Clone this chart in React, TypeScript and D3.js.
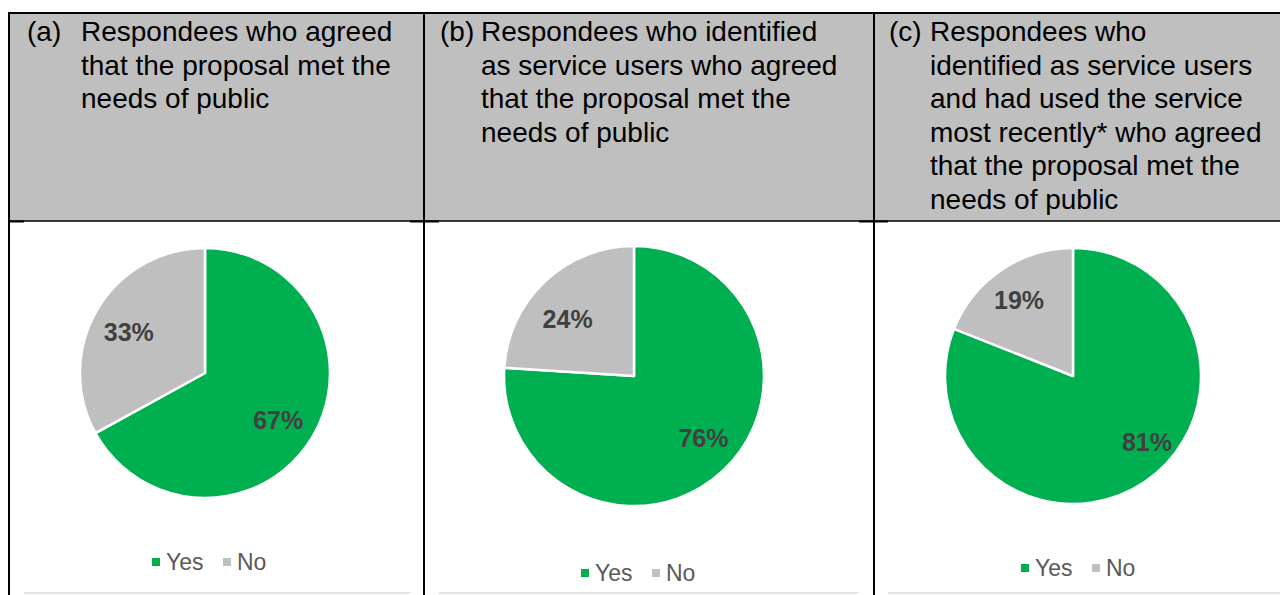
import React from "react";
import * as d3 from "d3";

const panelKeys = ["(a)", "(b)", "(c)"];
const panelTitles: string[][] = [
  ["Respondees who agreed", "that the proposal met the", "needs of public"],
  ["Respondees who identified", "as service users who agreed", "that the proposal met the", "needs of public"],
  ["Respondees who", "identified as service users", "and had used the service", "most recently* who agreed", "that the proposal met the", "needs of public"],
];
const categories = ["Yes", "No"];
const yesValues = [67, 76, 81];
const noValues = [33, 24, 19];

const colors = ["#00B050", "#BFBFBF"];
const FONT = "'Liberation Sans', Arial, Helvetica, sans-serif";

// layout
const colBorders = [9, 424, 874];
const keyX = [27, 440, 889];
const textX = [81, 481, 930];
const pieCenters = [
  { cx: 205, cy: 373, r: 125, lf: 0.69 },
  { cx: 634, cy: 376, r: 130, lf: 0.69 },
  { cx: 1073, cy: 376, r: 128, lf: 0.75 },
];
// fine placement nudges for data labels (px), per panel, per slice
const labelNudge = [
  [[-1, 3], [-2, 3]],
  [[8, -3], [-5, 8]],
  [[20, -13], [0, 3]],
];
const legendPos = [
  { x: 152, y: 562 },
  { x: 581, y: 573 },
  { x: 1021, y: 568 },
];
const chartBoxes = [
  { x0: 24, x1: 410 },
  { x0: 439, x1: 858 },
  { x0: 888, x1: 1290 },
];
const borderStubs = [
  [9, 24],
  [410, 439],
  [859, 888],
];

export default function App() {
  const pie = d3
    .pie<number>()
    .sort(null)
    .value((d) => d);

  return (
    <svg
      width={1280}
      height={595}
      style={{ position: "fixed", left: 0, top: 0, background: "#fff" }}
      fontFamily={FONT}
    >
      {/* header background */}
      <rect x={9} y={13} width={1290} height={208} fill="#BFBFBF" />
      {/* chart boxes */}
      {chartBoxes.map((b, i) => (
        <g key={"box" + i}>
          <rect x={b.x0} y={221.5} width={b.x1 - b.x0} height={372} fill="#fff" />
          <line x1={b.x0} x2={b.x1} y1={593} y2={593} stroke="#E3E3E3" strokeWidth={2} />
        </g>
      ))}
      {/* table borders */}
      <line x1={8} x2={1290} y1={13} y2={13} stroke="#000" strokeWidth={2} />
      <line x1={8} x2={1290} y1={221} y2={221} stroke="#000" strokeWidth={1.4} />
      {borderStubs.map((s, i) => (
        <line key={"st" + i} x1={s[0]} x2={s[1]} y1={221.5} y2={221.5} stroke="#000" strokeWidth={2} />
      ))}
      {colBorders.map((x, i) => (
        <line key={"cb" + i} x1={x} x2={x} y1={12} y2={600} stroke="#000" strokeWidth={2} />
      ))}
      {/* header texts */}
      {panelTitles.map((lines, i) => (
        <g key={"ht" + i} fontSize={28} fill="#000">
          <text x={keyX[i]} y={41}>{panelKeys[i]}</text>
          {lines.map((l, j) => (
            <text key={j} x={textX[i]} y={41 + j * 33.6}>
              {l}
            </text>
          ))}
        </g>
      ))}
      {/* pies */}
      {yesValues.map((yv, i) => {
        const vals = [yv, noValues[i]];
        const { cx, cy, r, lf } = pieCenters[i];
        const arcs = pie(vals);
        const arc = d3.arc<d3.PieArcDatum<number>>().innerRadius(0).outerRadius(r);
        const labelArc = d3
          .arc<d3.PieArcDatum<number>>()
          .innerRadius(r * lf)
          .outerRadius(r * lf);
        const lp = legendPos[i];
        return (
          <g key={"pie" + i}>
            <g transform={`translate(${cx},${cy})`}>
              {arcs.map((a, k) => (
                <path key={k} d={arc(a) || ""} fill={colors[k]} stroke="#fff" strokeWidth={2.5} strokeLinejoin="round" />
              ))}
              {arcs.map((a, k) => {
                const [lx, ly] = labelArc.centroid(a);
                const [nx, ny] = labelNudge[i][k];
                return (
                  <text
                    key={"l" + k}
                    x={lx + nx}
                    y={ly + ny}
                    textAnchor="middle"
                    dominantBaseline="central"
                    fontSize={25}
                    fontWeight="bold"
                    fill="#404040"
                  >
                    {vals[k]}%
                  </text>
                );
              })}
            </g>
            <g transform={`translate(${lp.x},${lp.y})`} fontSize={23} fill="#595959">
              {categories.map((c, k) => (
                <g key={c} transform={`translate(${k * 71},0)`}>
                  <rect x={0} y={-4} width={8} height={8} fill={colors[k]} />
                  <text x={14} y={0} dominantBaseline="central">
                    {c}
                  </text>
                </g>
              ))}
            </g>
          </g>
        );
      })}
    </svg>
  );
}
